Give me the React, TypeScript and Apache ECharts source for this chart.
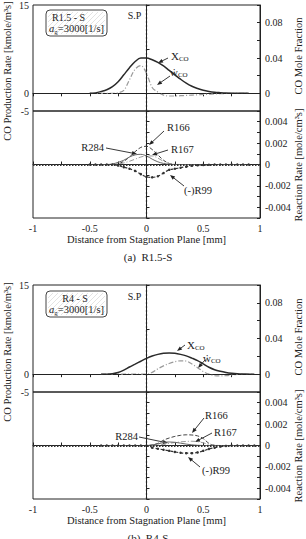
import React, { useEffect, useRef } from "react";
import * as echarts from "echarts";

const FONT = "'Liberation Serif', 'DejaVu Serif', serif";
const INK = "#222";
const GRAY = "#9a9a9a";

// ---------- panel (a) R1.5-S : distance from stagnation plane [mm] ----------
const distA = [-0.5, -0.45, -0.4, -0.35, -0.3, -0.25, -0.2, -0.15, -0.1, -0.05, 0, 0.05, 0.1, 0.15, 0.2, 0.25, 0.3, 0.35, 0.4, 0.45, 0.5, 0.55, 0.6, 0.65, 0.7, 0.75, 0.8, 0.85, 0.9];
// CO mole fraction
const xcoA = [0, 0.0005, 0.002, 0.004, 0.0075, 0.013, 0.021, 0.029, 0.036, 0.04, 0.04, 0.038, 0.035, 0.031, 0.026, 0.021, 0.016, 0.0115, 0.008, 0.0055, 0.0035, 0.0022, 0.0013, 0.0008, 0.0004, 0.0002, 0.0001, 0, 0];
// CO production rate [kmole/m3s]
const wcoA = [0, 0, 0, 0, 0, 0.1, 0.5, 2.3, 4.1, 4.7, 3.4, 1.0, 0.2, -0.3, -0.45, -0.45, -0.4, -0.35, -0.3, -0.25, -0.2, -0.15, -0.1, -0.06, -0.03, -0.01, 0, 0, 0];
// reaction rates [mole/cm3s]
const r166A = [0, 0, 0, 0, 0, 0.00005, 0.0003, 0.0007, 0.0012, 0.0016, 0.0017, 0.0014, 0.0009, 0.0004, 0.0001, 0, 0, 0, 0, 0, 0, 0, 0, 0, 0, 0, 0, 0, 0];
const r167A = [0, 0, 0, 0, 0, 0.00003, 0.00015, 0.0003, 0.0005, 0.0007, 0.0008, 0.0008, 0.0006, 0.0003, 0.0001, 0.00002, 0, 0, 0, 0, 0, 0, 0, 0, 0, 0, 0, 0, 0];
const r284A = [0, 0, 0, 0, 0.00005, 0.0002, 0.0004, 0.0007, 0.0009, 0.00095, 0.0008, 0.0005, 0.00025, 0.0001, 0.00002, 0, 0, 0, 0, 0, 0, 0, 0, 0, 0, 0, 0, 0, 0];
const r99A = [0, 0, 0, 0, 0, -0.0001, -0.00025, -0.0004, -0.0006, -0.0009, -0.00115, -0.0012, -0.0011, -0.0008, -0.0005, -0.0004, -0.0003, -0.0002, -0.00012, -0.00008, -0.00004, -0.00002, 0, 0, 0, 0, 0, 0, 0];

// ---------- panel (b) R4-S ----------
const distB = [-0.4, -0.35, -0.3, -0.25, -0.2, -0.15, -0.1, -0.05, 0, 0.05, 0.1, 0.15, 0.2, 0.25, 0.3, 0.35, 0.4, 0.45, 0.5, 0.55, 0.6, 0.65, 0.7, 0.75, 0.8, 0.85, 0.9, 0.95];
const xcoB = [0, 0, 0.0005, 0.0018, 0.0045, 0.008, 0.0112, 0.0145, 0.0177, 0.0203, 0.0222, 0.0234, 0.0238, 0.0234, 0.0222, 0.0205, 0.018, 0.0152, 0.0115, 0.0078, 0.005, 0.0032, 0.0019, 0.001, 0.0004, 0.0001, 0, 0];
const wcoB = [0, 0, 0, 0, 0, 0, 0, 0, 0, 0.3, 0.9, 1.4, 1.8, 2.1, 2.25, 2.2, 1.7, 1.1, 0.45, 0, -0.25, -0.3, -0.25, -0.15, -0.05, 0, 0, 0];
const r166B = [0, 0, 0, 0, 0, 0, 0, 0, 0, 0.00005, 0.0002, 0.0005, 0.0007, 0.00085, 0.00095, 0.001, 0.00098, 0.0009, 0.00065, 0.0002, 0.00002, 0, 0, 0, 0, 0, 0, 0];
const r167B = [0, 0, 0, 0, 0, 0, 0, 0, 0, 0, 0.00003, 0.0001, 0.0002, 0.00028, 0.00034, 0.00038, 0.0004, 0.00036, 0.00025, 0.0001, 0.00002, 0, 0, 0, 0, 0, 0, 0];
const r284B = [0, 0, 0, 0, 0, 0, 0, 0, 0, 0.00005, 0.00015, 0.00028, 0.00033, 0.0003, 0.00022, 0.00013, 0.00006, 0.00002, 0, 0, 0, 0, 0, 0, 0, 0, 0, 0];
const r99B = [0, 0, 0, 0, 0, 0, 0, 0, 0, -0.0002, -0.0003, -0.0004, -0.0005, -0.0006, -0.00068, -0.00072, -0.00072, -0.00065, -0.0005, -0.00032, -0.0002, -0.0001, -0.00004, 0, 0, 0, 0, 0];

// ---------- tick labels ----------
const distLabelValues = [-1, -0.5, 0, 0.5, 1];
const prodLabelValues = [-3, 0, 15];
const prodLabelTexts = ["-5", "0", "15"];
const prodTickValues = [0, 7.5, 15];
const fracLabelValues = [0, 0.04, 0.08];
const rateLabelValues = [-0.004, -0.002, 0, 0.002, 0.004];

// plot frame geometry
const PLOT_LEFT = 33;
const PLOT_W = 227;
const SUB_H = 107;
const PANEL_TOPS = [4, 285];

const pairs = (xs: number[], ys: number[]) => xs.map((x, i) => [x, ys[i]]);

const tickStyle = { inside: true, length: 3, lineStyle: { color: INK } };
const lineAxis = { show: true, lineStyle: { color: INK, width: 1 } };
const labelStyle = { fontSize: 10, color: INK, fontFamily: FONT };

function distAxis(gridIndex: number, bottom: boolean) {
  return {
    type: "value",
    gridIndex,
    min: -1,
    max: 1,
    interval: 0.25,
    position: bottom ? "bottom" : "top",
    axisLine: lineAxis,
    axisTick: tickStyle,
    splitLine: { show: false },
    axisLabel: bottom
      ? { ...labelStyle, margin: 5, customValues: distLabelValues }
      : { show: false },
    name: bottom ? "Distance from Stagnation Plane [mm]" : "",
    nameLocation: "middle",
    nameGap: 16,
    nameTextStyle: { fontSize: 10.5, color: INK, fontFamily: FONT },
  };
}

function prodAxis(gridIndex: number) {
  return {
    type: "value",
    gridIndex,
    position: "left",
    min: -3,
    max: 15,
    axisLine: lineAxis,
    axisTick: { ...tickStyle, customValues: prodTickValues },
    splitLine: { show: false },
    axisLabel: {
      ...labelStyle,
      margin: 4,
      customValues: prodLabelValues,
      formatter: (v: number) => prodLabelTexts[prodLabelValues.indexOf(v)] ?? "",
    },
  };
}

function fracAxis(gridIndex: number) {
  return {
    type: "value",
    gridIndex,
    position: "right",
    min: -0.02,
    max: 0.1,
    interval: 0.02,
    axisLine: lineAxis,
    axisTick: tickStyle,
    splitLine: { show: false },
    axisLabel: { ...labelStyle, margin: 5, customValues: fracLabelValues },
  };
}

function rateAxis(gridIndex: number, right: boolean) {
  return {
    type: "value",
    gridIndex,
    position: right ? "right" : "left",
    min: -0.005,
    max: 0.005,
    interval: 0.001,
    axisLine: lineAxis,
    axisTick: tickStyle,
    splitLine: { show: false },
    axisLabel: right
      ? { ...labelStyle, margin: 5, customValues: rateLabelValues, formatter: (v: number) => (v === 0 ? "0" : v.toFixed(3)) }
      : { show: false },
  };
}

type PanelData = {
  dist: number[];
  xco: number[];
  wco: number[];
  r166: number[];
  r167: number[];
  r284: number[];
  r99: number[];
};

function panelSeries(p: PanelData, k: number) {
  const gTop = 2 * k;
  const gBot = 2 * k + 1;
  const yProd = 4 * k;
  const yFrac = 4 * k + 1;
  const yRate = 4 * k + 2;
  const spLine = { xAxis: 0, lineStyle: { color: INK, width: 1.2, type: [2, 2] } };
  const base = { type: "line", showSymbol: false, smooth: 0.35, silent: true };
  return [
    {
      ...base,
      name: "wCO",
      xAxisIndex: gTop,
      yAxisIndex: yProd,
      data: pairs(p.dist, p.wco),
      lineStyle: { color: GRAY, width: 1.2, type: [5, 2, 1, 2] },
      markLine: {
        silent: true,
        symbol: "none",
        label: { show: false },
        data: [{ yAxis: 0, lineStyle: { color: INK, width: 1, type: [3, 2] } }, spLine],
      },
      z: 3,
    },
    {
      ...base,
      name: "XCO",
      xAxisIndex: gTop,
      yAxisIndex: yFrac,
      data: pairs(p.dist, p.xco),
      lineStyle: { color: "#2a2a2a", width: 1.5, type: "solid" },
      z: 4,
    },
    {
      ...base,
      name: "R166",
      xAxisIndex: gBot,
      yAxisIndex: yRate,
      data: pairs(p.dist, p.r166),
      lineStyle: { color: "#444", width: 1, type: [4, 2] },
      markLine: {
        silent: true,
        symbol: "none",
        label: { show: false },
        data: [{ yAxis: 0, lineStyle: { color: "#333", width: 2, type: [1.5, 1.5] } }, spLine],
      },
      z: 3,
    },
    {
      ...base,
      name: "R167",
      xAxisIndex: gBot,
      yAxisIndex: yRate,
      data: pairs(p.dist, p.r167),
      lineStyle: { color: GRAY, width: 1, type: [5, 2, 1, 2] },
      z: 3,
    },
    {
      ...base,
      name: "R284",
      xAxisIndex: gBot,
      yAxisIndex: yRate,
      data: pairs(p.dist, p.r284),
      lineStyle: { color: "#666", width: 1, type: "solid" },
      z: 3,
    },
    {
      ...base,
      name: "(-)R99",
      xAxisIndex: gBot,
      yAxisIndex: yRate,
      data: pairs(p.dist, p.r99),
      showSymbol: true,
      symbol: "circle",
      symbolSize: 2.5,
      itemStyle: { color: "#333" },
      lineStyle: { color: "#333", width: 1.2, type: [3, 2] },
      z: 4,
    },
  ];
}

// arrow from (x1,y1) to the tip (x2,y2), with a filled head
function arrow(x1: number, y1: number, x2: number, y2: number) {
  const dx = x2 - x1;
  const dy = y2 - y1;
  const len = Math.hypot(dx, dy);
  const ux = dx / len;
  const uy = dy / len;
  const L = 5;
  const W = 2;
  return [
    { type: "line", silent: true, shape: { x1, y1, x2: x2 - ux * 3, y2: y2 - uy * 3 }, style: { stroke: INK, lineWidth: 0.9 } },
    {
      type: "polygon",
      silent: true,
      shape: {
        points: [
          [x2, y2],
          [x2 - ux * L - uy * W, y2 - uy * L + ux * W],
          [x2 - ux * L + uy * W, y2 - uy * L - ux * W],
        ],
      },
      style: { fill: INK },
    },
  ];
}

const richBase = {
  m: { fontSize: 11, fontFamily: FONT, fill: INK, verticalAlign: "top", lineHeight: 12 },
  s: { fontSize: 7, fontFamily: FONT, fill: INK, verticalAlign: "bottom", lineHeight: 12 },
  i: { fontSize: 10.5, fontFamily: FONT, fontStyle: "italic", fill: INK, verticalAlign: "top", lineHeight: 12 },
  n: { fontSize: 10.5, fontFamily: FONT, fill: INK, verticalAlign: "top", lineHeight: 12 },
};

function label(text: string, x: number, y: number, align: "left" | "right" | "center" = "left") {
  return {
    type: "text",
    silent: true,
    x,
    y,
    style: { text, rich: richBase, align, verticalAlign: "middle", fontFamily: FONT, fontSize: 10.5, fill: INK },
  };
}

function plain(text: string, x: number, y: number, size: number, rotate = 0, align = "center") {
  return {
    type: "text",
    silent: true,
    x,
    y,
    rotation: rotate,
    style: { text, align, verticalAlign: "middle", fontFamily: FONT, fontSize: size, fill: INK },
  };
}

// rounded case box with light diagonal hatching
function caseBox(top: number, title: string, titleX: number) {
  const x0 = 46;
  const y0 = top + 6;
  const w = 61;
  const h = 26;
  const hatch: any[] = [];
  for (let c = x0 + y0 + 4; c < x0 + w + y0 + h; c += 5) {
    const xa = Math.max(x0 + 2, c - (y0 + h - 2));
    const xb = Math.min(x0 + w - 2, c - (y0 + 2));
    if (xb > xa) {
      hatch.push({ type: "line", silent: true, shape: { x1: xa, y1: c - xa, x2: xb, y2: c - xb }, style: { stroke: "#dcdcdc", lineWidth: 0.8 } });
    }
  }
  return [
    { type: "rect", silent: true, shape: { x: x0, y: y0, width: w, height: h, r: 4 }, style: { fill: "#fff", stroke: "#444", lineWidth: 1 } },
    ...hatch,
    plain(title, titleX, y0 + 7.5, 10),
    {
      type: "text",
      silent: true,
      x: x0 + w / 2,
      y: y0 + 19,
      style: {
        text: "{i|a}{s|g}{n|=3000[1/s]}",
        rich: richBase,
        align: "center",
        verticalAlign: "middle",
      },
    },
  ];
}

function panelGraphics(top: number, title: string, titleX: number, caption: string, notes: any[]) {
  const o = top - 4;
  return [
    plain("CO Production Rate [kmole/m\u00b3s]", 7.5, o + 71, 10.5, Math.PI / 2),
    plain("CO Mole Fraction", 298, o + 56, 10.5, Math.PI / 2),
    plain("Reaction Rate [mole/cm\u00b3s]", 298.5, o + 165, 10.5, Math.PI / 2),
    plain("S.P", 134.5, o + 15, 10),
    plain(caption, 148, o + 257, 11),
    ...caseBox(top, title, titleX),
    ...notes.flatMap((n) => [label(n.t, n.tx, o + n.ty, n.align), ...arrow(n.a[0], o + n.a[1], n.a[2], o + n.a[3])]),
  ];
}

const notesA = [
  { t: "{m|X}{s|CO}", tx: 171, ty: 56, align: "left", a: [168, 58, 158, 63] },
  { t: "{m|\u1e87}{s|CO}", tx: 170, ty: 72, align: "left", a: [170, 76, 157, 85] },
  { t: "R166", tx: 167, ty: 127, align: "left", a: [164, 131, 149, 145] },
  { t: "R284", tx: 104, ty: 147.5, align: "right", a: [106, 148, 137, 154] },
  { t: "R167", tx: 171, ty: 149.5, align: "left", a: [168, 150, 152, 155] },
  { t: "(-)R99", tx: 184, ty: 190, align: "left", a: [184, 186, 170, 175] },
];

const notesB = [
  { t: "{m|X}{s|CO}", tx: 187, ty: 64, align: "left", a: [185, 64, 177, 70] },
  { t: "{m|\u1e87}{s|CO}", tx: 203, ty: 77, align: "left", a: [205, 79, 198, 87] },
  { t: "R166", tx: 205, ty: 134, align: "left", a: [204, 137, 192, 152] },
  { t: "R167", tx: 214, ty: 151.5, align: "left", a: [212, 152, 195, 161] },
  { t: "R284", tx: 138, ty: 155, align: "right", a: [139, 156, 168, 162] },
  { t: "(-)R99", tx: 202, ty: 189, align: "left", a: [200, 186, 188, 176] },
];

export default function App() {
  const ref = useRef<HTMLDivElement>(null);

  useEffect(() => {
    if (!ref.current) return;
    const chart = echarts.init(ref.current, undefined, { renderer: "svg" });

    const grids = [
      PANEL_TOPS[0], PANEL_TOPS[0] + SUB_H, PANEL_TOPS[1], PANEL_TOPS[1] + SUB_H,
    ].map((t) => ({
      left: PLOT_LEFT,
      top: t,
      width: PLOT_W,
      height: SUB_H,
      show: true,
      borderColor: INK,
      borderWidth: 1,
    }));

    const panelA: PanelData = { dist: distA, xco: xcoA, wco: wcoA, r166: r166A, r167: r167A, r284: r284A, r99: r99A };
    const panelB: PanelData = { dist: distB, xco: xcoB, wco: wcoB, r166: r166B, r167: r167B, r284: r284B, r99: r99B };

    chart.setOption({
      animation: false,
      backgroundColor: "#fff",
      textStyle: { fontFamily: FONT },
      grid: grids,
      xAxis: [distAxis(0, false), distAxis(1, true), distAxis(2, false), distAxis(3, true)],
      yAxis: [
        prodAxis(0), fracAxis(0), rateAxis(1, false), rateAxis(1, true),
        prodAxis(2), fracAxis(2), rateAxis(3, false), rateAxis(3, true),
      ],
      series: [...panelSeries(panelA, 0), ...panelSeries(panelB, 1)],
      graphic: [
        ...panelGraphics(PANEL_TOPS[0], "R1.5 - S", 68.5, "(a)  R1.5-S", notesA),
        ...panelGraphics(PANEL_TOPS[1], "R4 - S", 75, "(b)  R4-S", notesB),
      ],
    });

    return () => chart.dispose();
  }, []);

  return <div ref={ref} style={{ position: "absolute", left: 0, top: 0, width: 306, height: 539 }} />;
}
